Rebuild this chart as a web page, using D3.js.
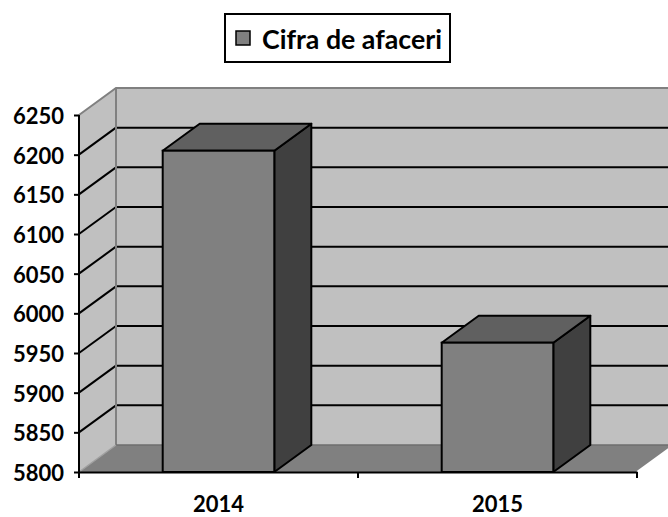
<!DOCTYPE html>
<html>
<head>
<meta charset="utf-8">
<script src="https://cdn.jsdelivr.net/npm/d3@7"></script>
<style>
  html, body { margin: 0; padding: 0; background: #fff; }
  svg { display: block; }
  text { font-family: Lato, "Open Sans", sans-serif; font-weight: bold; fill: #000; }
</style>
</head>
<body>
<svg id="chart" width="668" height="517"></svg>
<script>
const categories = ["2014", "2015"];
const seriesName = "Cifra de afaceri";
const values = [6205, 5963];
const yTicks = [5800, 5850, 5900, 5950, 6000, 6050, 6100, 6150, 6200, 6250];

(function () {
const svg = d3.select("#chart");

const pLeft = 79, pRight = 637, pBottom = 472, pTop = 115;
const dx = 37, dy = -27;

const y = d3.scaleLinear().domain([5800, 6250]).range([pBottom, pTop]);
const x = d3.scaleBand().domain(categories).range([pLeft, pRight]).padding(0);
const barW = x.bandwidth() * 0.4;

const line = d3.line();
const poly = pts => line(pts) + "Z";

const y0 = y(5800), y1 = y(6250);

const g = svg.append("g");

// side wall
g.append("path")
  .attr("d", poly([[pLeft, y1], [pLeft + dx, y1 + dy], [pLeft + dx, y0 + dy], [pLeft, y0]]))
  .attr("fill", "#c0c0c0");
// back wall
g.append("path")
  .attr("d", poly([[pLeft + dx, y1 + dy], [pRight + dx, y1 + dy], [pRight + dx, y0 + dy], [pLeft + dx, y0 + dy]]))
  .attr("fill", "#c0c0c0");
// floor
g.append("path")
  .attr("d", poly([[pLeft, y0], [pLeft + dx, y0 + dy], [pRight + dx, y0 + dy], [pRight, y0]]))
  .attr("fill", "#808080");

// gridlines
const gridVals = yTicks.filter(v => v !== 5800 && v !== 6250);
g.selectAll(".gridB").data(gridVals).join("line")
  .attr("x1", pLeft + dx).attr("x2", pRight + dx)
  .attr("y1", d => y(d) + dy).attr("y2", d => y(d) + dy)
  .attr("stroke", "#000").attr("stroke-width", 2);
g.selectAll(".gridS").data(gridVals).join("line")
  .attr("x1", pLeft).attr("x2", pLeft + dx)
  .attr("y1", d => y(d)).attr("y2", d => y(d) + dy)
  .attr("stroke", "#000").attr("stroke-width", 2);

// wall edges
const edgeC = "#808080";
g.append("path")
  .attr("d", line([[pLeft, y1], [pLeft + dx, y1 + dy], [pRight + dx, y1 + dy]]))
  .attr("fill", "none").attr("stroke", edgeC).attr("stroke-width", 2);
g.append("line")
  .attr("x1", pLeft + dx).attr("x2", pLeft + dx).attr("y1", y1 + dy).attr("y2", y0 + dy)
  .attr("stroke", edgeC).attr("stroke-width", 2);
g.append("line")
  .attr("x1", pLeft + dx).attr("x2", pRight + dx).attr("y1", y0 + dy).attr("y2", y0 + dy)
  .attr("stroke", "#6e6e6e").attr("stroke-width", 1.5);
g.append("line")
  .attr("x1", pLeft).attr("x2", pLeft + dx).attr("y1", y0).attr("y2", y0 + dy)
  .attr("stroke", "#a0a0a0").attr("stroke-width", 1.5);
g.append("line")
  .attr("x1", pRight).attr("x2", pRight + dx).attr("y1", y0).attr("y2", y0 + dy)
  .attr("stroke", "#ffffff").attr("stroke-width", 2);

// bars
const bars = g.selectAll(".bar").data(categories.map((c, i) => ({c, v: values[i]}))).join("g");
bars.each(function (d) {
  const b = d3.select(this);
  const xl = x(d.c) + (x.bandwidth() - barW) / 2, xr = xl + barW;
  const yt = y(d.v);
  b.append("path")
    .attr("d", poly([[xr, yt], [xr + dx, yt + dy], [xr + dx, y0 + dy], [xr, y0]]))
    .attr("fill", "#404040").attr("stroke", "#000").attr("stroke-width", 2).attr("stroke-linejoin", "round");
  b.append("path")
    .attr("d", poly([[xl, yt], [xl + dx, yt + dy], [xr + dx, yt + dy], [xr, yt]]))
    .attr("fill", "#606060").attr("stroke", "#000").attr("stroke-width", 2).attr("stroke-linejoin", "round");
  b.append("rect")
    .attr("x", xl).attr("y", yt).attr("width", barW).attr("height", y0 - yt)
    .attr("fill", "#808080").attr("stroke", "#000").attr("stroke-width", 2);
});

// y axis
const yAxis = d3.axisLeft(y).tickValues(yTicks).tickSize(5).tickFormat(d3.format("d"));
const ya = svg.append("g").attr("transform", `translate(${pLeft},0)`).call(yAxis);
ya.select(".domain").attr("stroke", "#000").attr("stroke-width", 2).attr("d", `M0,${y1}V${y0}`);
ya.selectAll(".tick line").attr("stroke", "#000").attr("stroke-width", 2);
ya.selectAll(".tick text")
  .attr("x", -15).attr("dy", "0.38em")
  .style("font-family", "Lato, 'Open Sans', sans-serif").style("font-weight", "bold")
  .style("font-size", "22px").attr("fill", "#000");

// x axis
const xAxis = d3.axisBottom(x).tickSize(0).tickSizeOuter(0);
const xa = svg.append("g").attr("transform", `translate(0,${pBottom})`).call(xAxis);
xa.select(".domain").attr("stroke", "#000").attr("stroke-width", 2);
xa.selectAll(".tick text")
  .attr("y", 40).attr("dy", 0)
  .style("font-family", "Lato, 'Open Sans', sans-serif").style("font-weight", "bold")
  .style("font-size", "22px").attr("fill", "#000");
const bounds = [pLeft].concat(categories.map(c => x(c) + x.bandwidth()));
xa.selectAll(".btick").data(bounds).join("line")
  .attr("x1", d => d).attr("x2", d => d).attr("y1", 0).attr("y2", 6)
  .attr("stroke", "#000").attr("stroke-width", 2);

// legend
const lg = svg.append("g");
lg.append("rect").attr("x", 225).attr("y", 14).attr("width", 225).attr("height", 48)
  .attr("fill", "#fff").attr("stroke", "#000").attr("stroke-width", 2);
lg.append("rect").attr("x", 236).attr("y", 31).attr("width", 14).attr("height", 14)
  .attr("fill", "#808080").attr("stroke", "#000").attr("stroke-width", 1.5);
lg.append("text").attr("x", 262).attr("y", 49)
  .style("font-size", "26px")
  .attr("textLength", 180).attr("lengthAdjust", "spacingAndGlyphs")
  .text(seriesName);
})();
</script>
</body>
</html>
